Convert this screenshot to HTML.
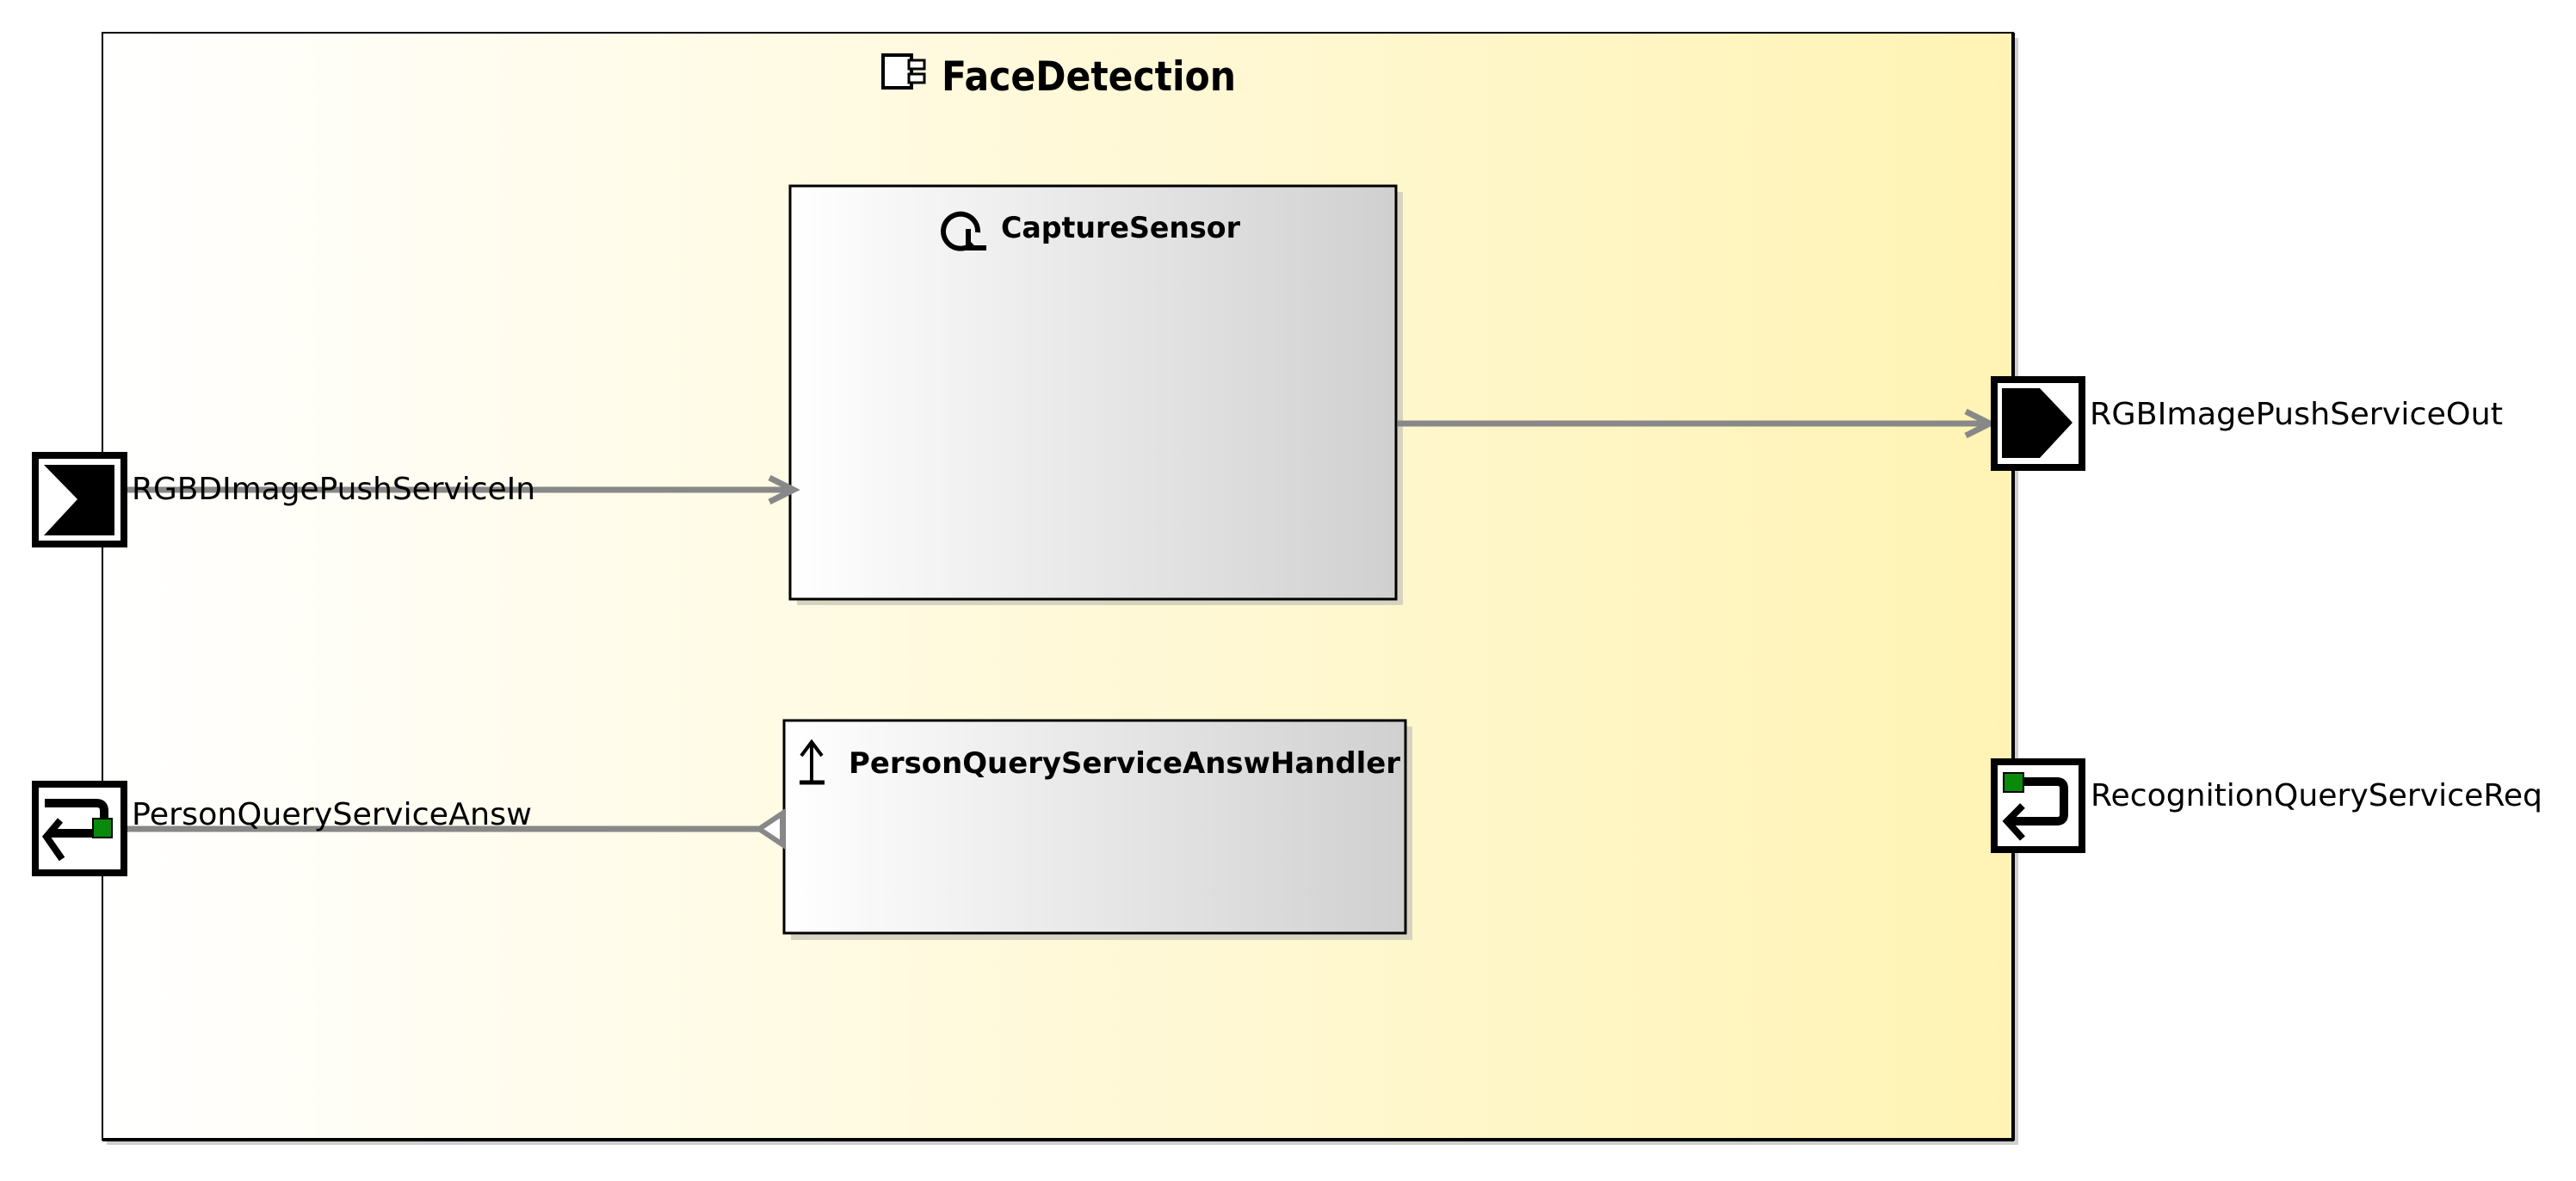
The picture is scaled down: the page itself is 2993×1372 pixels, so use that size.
<!DOCTYPE html>
<html><head><meta charset="utf-8"><style>
html,body{margin:0;padding:0;background:#fff;}
svg{display:block;}
text{font-family:"DejaVu Sans","Liberation Sans",sans-serif;}
</style></head><body>
<svg width="2993" height="1372" viewBox="0 0 2993 1372" xmlns="http://www.w3.org/2000/svg">
<defs>
<linearGradient id="yel" x1="0" x2="1" y1="0" y2="0"><stop offset="0" stop-color="#ffffff"/><stop offset="1" stop-color="#fff3b4"/></linearGradient>
<linearGradient id="gry" x1="0" x2="1" y1="0" y2="0"><stop offset="0" stop-color="#ffffff"/><stop offset="1" stop-color="#d0d0d0"/></linearGradient>
</defs>
<!-- container -->
<rect x="124" y="44" width="2221" height="1286" fill="#cfcfcf"/>
<rect x="119" y="38" width="2220" height="1286" fill="url(#yel)" stroke="#000" stroke-width="2"/>
<line x1="2339" y1="38" x2="2339" y2="1325" stroke="#000" stroke-width="4"/>
<line x1="119" y1="1324" x2="2340" y2="1324" stroke="#000" stroke-width="4"/>
<!-- title -->
<rect x="1026" y="64" width="33" height="38" fill="#fff" stroke="#000" stroke-width="4"/>
<rect x="1056" y="70" width="18" height="10" fill="#fff" stroke="#000" stroke-width="3"/>
<rect x="1056" y="86" width="18" height="10" fill="#fff" stroke="#000" stroke-width="3"/>
<text x="1094" y="105" font-size="47" font-weight="bold" textLength="342" lengthAdjust="spacingAndGlyphs">FaceDetection</text>
<!-- CaptureSensor -->
<rect x="926" y="223" width="704" height="480" fill="#d6d3c0"/>
<rect x="918" y="216" width="704" height="480" fill="url(#gry)" stroke="#000" stroke-width="3"/>
<path d="M1130 283 A20 20 0 1 1 1136 270" fill="none" stroke="#000" stroke-width="6"/>
<path d="M1125 266 L1125 288 L1146 288" fill="none" stroke="#000" stroke-width="6"/>
<text x="1163" y="276" font-size="34" font-weight="bold" textLength="278" lengthAdjust="spacingAndGlyphs">CaptureSensor</text>
<!-- Handler -->
<rect x="919" y="844" width="722" height="248" fill="#d6d3c0"/>
<rect x="911" y="837" width="722" height="247" fill="url(#gry)" stroke="#000" stroke-width="3"/>
<line x1="943" y1="864" x2="943" y2="908" stroke="#000" stroke-width="4"/>
<line x1="929" y1="909" x2="958" y2="909" stroke="#000" stroke-width="5"/>
<path d="M931 878 L943 862 L955 878" fill="none" stroke="#000" stroke-width="4"/>
<text x="986" y="898" font-size="34" font-weight="bold" textLength="641" lengthAdjust="spacingAndGlyphs">PersonQueryServiceAnswHandler</text>
<!-- connectors -->
<line x1="145" y1="569" x2="920" y2="569" stroke="#888" stroke-width="7"/>
<path d="M894 555 L922 569 L894 583" fill="none" stroke="#888" stroke-width="7"/>
<line x1="1624" y1="492" x2="2310" y2="492" stroke="#888" stroke-width="7"/>
<path d="M2284 478 L2312 492 L2284 506" fill="none" stroke="#888" stroke-width="7"/>
<line x1="145" y1="963" x2="882" y2="963" stroke="#888" stroke-width="7"/>
<path d="M909 945 L882 963 L909 981 Z" fill="#fff" stroke="#888" stroke-width="6"/>
<!-- left port 1 -->
<rect x="41" y="529" width="103" height="103" fill="#fff" stroke="#000" stroke-width="8"/>
<path d="M51 540 L133 540 L133 622 L51 622 L90 580 Z" fill="#000"/>
<!-- left port 2 -->
<rect x="41" y="911" width="103" height="103" fill="#fff" stroke="#000" stroke-width="8"/>
<path d="M52 933 L112 933 Q121 933 121 942 L121 959 Q121 968 112 968 L56 968" fill="none" stroke="#000" stroke-width="10"/>
<path d="M70 953 L54 972 L72 998" fill="none" stroke="#000" stroke-width="8"/>
<rect x="108" y="951" width="22" height="22" fill="#0a8a0a" stroke="#000" stroke-width="2"/>
<!-- right port 1 -->
<rect x="2317" y="441" width="102" height="102" fill="#fff" stroke="#000" stroke-width="8"/>
<path d="M2326 451 L2370 451 L2408 491 L2370 532 L2326 532 Z" fill="#000"/>
<!-- right port 2 -->
<rect x="2317" y="885" width="102" height="102" fill="#fff" stroke="#000" stroke-width="8"/>
<path d="M2350 908 L2390 908 Q2398 908 2398 916 L2398 946 Q2398 954 2390 954 L2332 954" fill="none" stroke="#000" stroke-width="10"/>
<path d="M2350 936 L2332 954 L2350 974" fill="none" stroke="#000" stroke-width="8"/>
<rect x="2328" y="898" width="23" height="22" fill="#0a8a0a" stroke="#000" stroke-width="2"/>
<!-- port labels -->
<text x="153" y="580" font-size="36" textLength="469" lengthAdjust="spacingAndGlyphs">RGBDImagePushServiceIn</text>
<text x="153" y="958" font-size="36" textLength="465" lengthAdjust="spacingAndGlyphs">PersonQueryServiceAnsw</text>
<text x="2428" y="493" font-size="36" textLength="480" lengthAdjust="spacingAndGlyphs">RGBImagePushServiceOut</text>
<text x="2429" y="936" font-size="36" textLength="525" lengthAdjust="spacingAndGlyphs">RecognitionQueryServiceReq</text>
</svg>
</body></html>
